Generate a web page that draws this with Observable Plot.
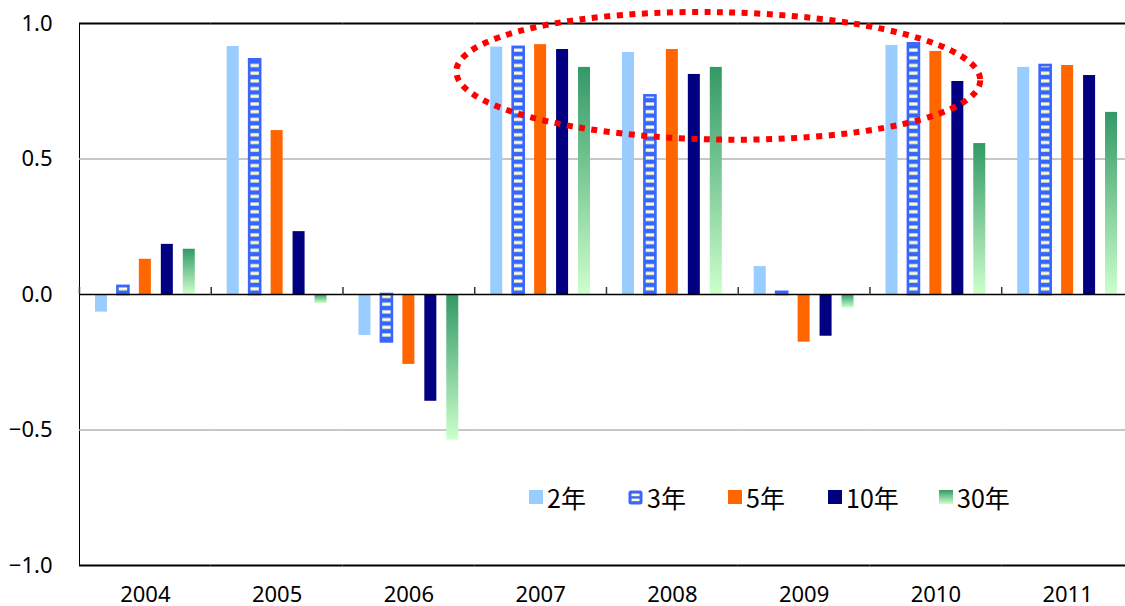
<!DOCTYPE html>
<html>
<head>
<meta charset="utf-8">
<script src="https://cdn.jsdelivr.net/npm/d3@7"></script>
<script src="https://cdn.jsdelivr.net/npm/@observablehq/plot@0.6"></script>
<style>
  html, body { margin: 0; padding: 0; background: #fff; overflow: hidden; }
  #wrap { position: relative; width: 1133px; height: 606px; }
  .legend { position: absolute; top: 482px; left: 0; font-family: "Noto Sans CJK JP", "Noto Sans", sans-serif; font-size: 25px; color: #000; }
  .item { position: absolute; display: flex; align-items: center; white-space: nowrap; height: 30px; }
  .item svg { margin-right: 4px; }
</style>
</head>
<body>
<div id="wrap">
  <svg width="0" height="0" style="position:absolute">
    <defs>
      <linearGradient id="g30" x1="0" y1="0" x2="0" y2="1">
        <stop offset="0" stop-color="#339966"/>
        <stop offset="1" stop-color="#ccffcc"/>
      </linearGradient>
      <pattern id="p3" patternUnits="userSpaceOnUse" width="20" height="7.7">
        <rect x="0" y="0" width="20" height="7.7" fill="#3366ff"/>
        <rect x="0" y="2.3" width="20" height="3.2" fill="#ffffcc"/>
      </pattern>
    </defs>
  </svg>
  <div id="chart"></div>
  <div class="legend" id="legend"></div>
</div>
<script>
const years = ["2004", "2005", "2006", "2007", "2008", "2009", "2010", "2011"];
const series = ["2年", "3年", "5年", "10年", "30年"];
const v2  = [-0.065, 0.915, -0.151, 0.913, 0.893, 0.103, 0.919, 0.838];
const v3  = [0.030, 0.866, -0.175, 0.912, 0.733, 0.008, 0.925, 0.845];
const v5  = [0.130, 0.605, -0.258, 0.922, 0.904, -0.176, 0.897, 0.845];
const v10 = [0.185, 0.232, -0.394, 0.904, 0.812, -0.154, 0.786, 0.808];
const v30 = [0.167, -0.033, -0.537, 0.838, 0.838, -0.050, 0.557, 0.672];
const yTicks = [-1, -0.5, 0, 0.5, 1];
const gridTicks = [-0.5, 0.5];

const seriesValues = [v2, v3, v5, v10, v30];
const fills = ["#99ccff", "url(#p3)", "#ff6600", "#000080", "url(#g30)"];

const data = years.flatMap((yr, i) => series.map((s, j) => ({year: yr, series: s, value: seriesValues[j][i]})));

const W = 1133, H = 606;
const barMarks = series.map((s, j) => {
  const opts = {fx: "year", x: "series", y: "value", fill: fills[j]};
  if (s === "3年") Object.assign(opts, {stroke: "#3a66ff", strokeWidth: 2.6, insetLeft: 0.5, insetRight: 0.5});
  return Plot.barY(data.filter(d => d.series === s), opts);
});

const chart = Plot.plot({
  width: W,
  height: H,
  marginLeft: 79,
  marginRight: 0,
  marginTop: 23,
  marginBottom: 41,
  style: {fontFamily: "'Noto Sans', 'Noto Sans CJK JP', sans-serif", fontSize: "22px", color: "#000", background: "transparent", overflow: "visible"},
  fx: {domain: years, padding: 0, round: false, label: null, axis: "bottom", tickSize: 0, tickPadding: 21},
  x: {domain: series, axis: null, round: false, paddingInner: 0.453, paddingOuter: 0.727},
  y: {domain: [-1, 1], ticks: yTicks, tickFormat: d3.format(".1f"), label: null, tickSize: 0, tickPadding: 27, line: true},
  marks: [
    Plot.ruleY(gridTicks, {stroke: "#b4b4b4", strokeWidth: 1.5}),
    ...barMarks,
    Plot.ruleY([0], {stroke: "#000", strokeWidth: 1.5}),
    Plot.ruleY([1, -1], {stroke: "#000", strokeWidth: 2}),
    Plot.ruleX(years, {fx: d => d, x: () => series[0], dx: -22, y1: () => 0, y2: () => 0.026, stroke: "#333", strokeWidth: 1.5})
  ]
});
document.getElementById("chart").appendChild(chart);

d3.select(chart).selectAll("[aria-label='y-axis'] path, [aria-label='y-axis line'] path, [aria-label='y-axis line'] line").attr("stroke", "#444").attr("stroke-width", 1.5);

// Dotted ellipse annotation, positioned from the chart's scales
const fxS = chart.scale("fx");
const yS = chart.scale("y");
const step = (fxS.range[1] - fxS.range[0]) / fxS.domain.length;
const fxLeft = k => fxS.range[0] + fxS.domain.indexOf(k) * step;
const yPix = v => yS.range[0] + (v - yS.domain[0]) / (yS.domain[1] - yS.domain[0]) * (yS.range[1] - yS.range[0]);
const left = fxLeft("2007") - 18, right = fxLeft("2010") + step - 21;
const cx = (left + right) / 2, rx = (right - left) / 2;
const cy = yPix(0.805), ry = yPix(0.57) - yPix(0.805);
d3.select(chart).append("ellipse")
  .attr("cx", cx).attr("cy", cy).attr("rx", rx).attr("ry", ry)
  .attr("transform", `rotate(1 ${cx} ${cy})`)
  .attr("fill", "none").attr("stroke", "#ff0000").attr("stroke-width", 6)
  .attr("stroke-dasharray", "6 6.5");

// Legend
const legendLefts = [529, 628, 728, 828, 939];
const swatch = s => {
  if (s === "3年") return `<svg width="15" height="15"><rect x="0.5" y="0.5" width="14" height="14" rx="2.5" fill="#3a66ff"/><rect x="3.5" y="3.6" width="8" height="2.6" fill="#ffffcc"/><rect x="3.5" y="8.6" width="8" height="2.6" fill="#ffffcc"/></svg>`;
  const f = fills[series.indexOf(s)];
  return `<svg width="14" height="14"><rect width="14" height="14" fill="${f}"/></svg>`;
};
const leg = document.getElementById("legend");
series.forEach((s, j) => {
  const el = document.createElement("div");
  el.className = "item";
  el.style.left = legendLefts[j] + "px";
  el.innerHTML = swatch(s) + `<span>${s}</span>`;
  leg.appendChild(el);
});
</script>
</body>
</html>
